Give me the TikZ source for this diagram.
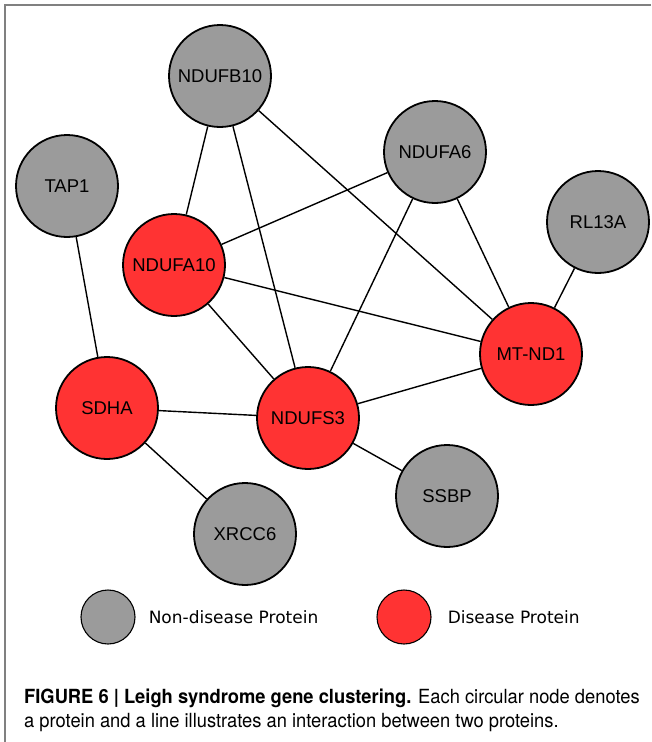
\documentclass[tikz,border=0pt]{standalone}
\usepackage{fontspec}
\setmainfont{Liberation Sans}
\newfontfamily\legendfont{DejaVu Sans}
\newfontfamily\captionfont[FakeStretch=0.94]{TeX Gyre Heros}
\usetikzlibrary{positioning}
\definecolor{nodegray}{RGB}{155,155,155}
\definecolor{nodered}{RGB}{255,51,51}
\tikzstyle{vertex}=[circle,draw,line width=1.8pt,minimum size=102pt,inner sep=0pt,font=\fontsize{18.5}{20}\selectfont]
\tikzstyle{normal}=[vertex,fill=nodegray]
\tikzstyle{disease}=[vertex,fill=nodered]
\tikzstyle{key}=[circle,draw,line width=1.1pt,minimum size=54pt,inner sep=0pt]
\tikzstyle{keytext}=[inner sep=0pt,font=\legendfont\fontsize{17}{20}\selectfont]
\tikzstyle{edge}=[draw,line width=1.4pt]

\begin{document}
\begin{tikzpicture}[x=1pt,y=-1pt]
        \useasboundingbox (0,0) rectangle (651,742);
        \draw [gray,line width=2pt] (651,5) -- (5,5) -- (5,742);

        \node [normal] (v1) at (220,76) {NDUFB10};
        \node [normal] (v2) at (435,152) {NDUFA6};
        \node [normal] (v3) at (67,186) {TAP1};
        \node [disease] (v4) at (174,265) {NDUFA10};
        \node [normal] (v5) at (598,222) {RL13A};
        \node [disease] (v6) at (531,354) {MT-ND1};
        \node [disease] (v7) at (107,408) {SDHA};
        \node [disease] (v8) at (308,418) {NDUFS3};
        \node [normal] (v9) at (447,496) {SSBP};
        \node [normal] (v10) at (245,534) {XRCC6};

        \path [edge] (v1) -- (v4);
        \path [edge] (v1) -- (v8);
        \path [edge] (v1) -- (v6);
        \path [edge] (v2) -- (v4);
        \path [edge] (v2) -- (v8);
        \path [edge] (v2) -- (v6);
        \path [edge] (v5) -- (v6);
        \path [edge] (v3) -- (v7);
        \path [edge] (v4) -- (v6);
        \path [edge] (v4) -- (v8);
        \path [edge] (v7) -- (v8);
        \path [edge] (v7) -- (v10);
        \path [edge] (v8) -- (v6);
        \path [edge] (v8) -- (v9);

        \node [key,fill=nodegray] (k1) at (108,617) {};
        \node [keytext,right=13pt of k1] (t1) {Non-disease Protein};
        \node [key,fill=nodered] (k2) at (404,617) {};
        \node [keytext,right=16pt of k2] (t2) {Disease Protein};

        \node [anchor=base west,inner sep=0pt,font=\captionfont\fontsize{19.5}{24}\selectfont] (c1) at (24,703)
          {\textbf{FIGURE 6 | Leigh syndrome gene clustering.} Each circular node denotes};
        \node [anchor=base west,inner sep=0pt,font=\captionfont\fontsize{19.5}{24}\selectfont] (c2) at (24,727)
          {a protein and a line illustrates an interaction between two proteins.};
      \end{tikzpicture}
\end{document}
